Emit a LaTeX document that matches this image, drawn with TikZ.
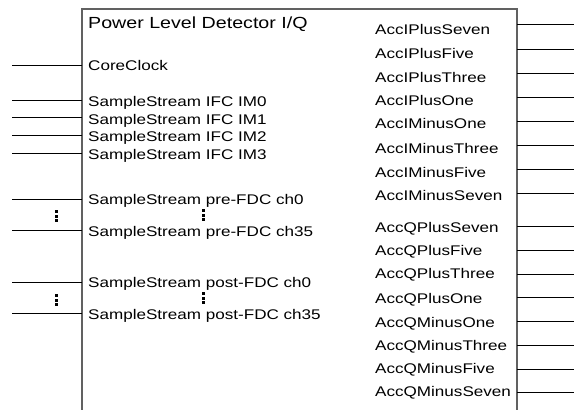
\documentclass[tikz,border=0pt]{standalone}
\usepackage{fontspec}
\setmainfont{Liberation Sans}[FakeStretch=1.22]
\begin{document}
\begin{tikzpicture}[x=1pt,y=-1pt,
  frame/.style={draw=black!62,line width=1.3pt},
  wire/.style={draw=black,line width=0.9pt},
  lbl/.style={inner sep=0pt,anchor=base west,font=\fontsize{14}{16}\selectfont},
  ttl/.style={inner sep=0pt,anchor=base west,font=\fontsize{16.1}{18}\selectfont},
  vdot/.style={fill=black,minimum size=3pt,inner sep=0pt,draw=none,rectangle}]
\useasboundingbox (0,0) rectangle (574,410);

% block outline, open at the bottom
\draw[frame] (82,410) -- (82,9) -- (517,9) -- (517,410);
\node[ttl] (title) at (88,28) {Power Level Detector I/Q};

% input ports: name / wire height / baseline
\foreach \n/\wy/\by/\t in {
  clk/65/70/CoreClock,
  im0/100/106/SampleStream IFC IM0,
  im1/117/124/SampleStream IFC IM1,
  im2/135/141/SampleStream IFC IM2,
  im3/153/159/SampleStream IFC IM3,
  pre0/199/204/SampleStream pre-FDC ch0,
  pre35/230/236/SampleStream pre-FDC ch35,
  post0/282/287/SampleStream post-FDC ch0,
  post35/313/319/SampleStream post-FDC ch35}{
  \node[lbl] (in-\n) at (88,\by) {\t};
  \coordinate (pin-\n) at (82,\wy);
  \coordinate (src-\n) at (12,\wy);
  \draw[wire] (src-\n) -- (pin-\n);
}

% output ports
\foreach \n/\wy/\by in {
  AccIPlusSeven/24/34, AccIPlusFive/49/58, AccIPlusThree/73/82, AccIPlusOne/97/105,
  AccIMinusOne/121/128, AccIMinusThree/145/153, AccIMinusFive/169/177, AccIMinusSeven/193/200,
  AccQPlusSeven/226/232, AccQPlusFive/250/255, AccQPlusThree/274/278, AccQPlusOne/297/303,
  AccQMinusOne/321/327, AccQMinusThree/345/350, AccQMinusFive/369/373, AccQMinusSeven/392/396}{
  \node[lbl] (out-\n) at (375,\by) {\n};
  \coordinate (pout-\n) at (517,\wy);
  \coordinate (dst-\n) at (574,\wy);
  \draw[wire] (pout-\n) -- (dst-\n);
}

% vertical ellipses for the elided channels
\foreach \n/\x/\y in {lpre/56/216, lpost/56/300, mpre/203/215, mpost/203/298}{
  \foreach \k/\d in {a/-4.6, b/0, c/4.6}{
    \node[vdot] (dot-\n-\k) at (\x,\y+\d) {};
  }
}
\end{tikzpicture}
\end{document}
